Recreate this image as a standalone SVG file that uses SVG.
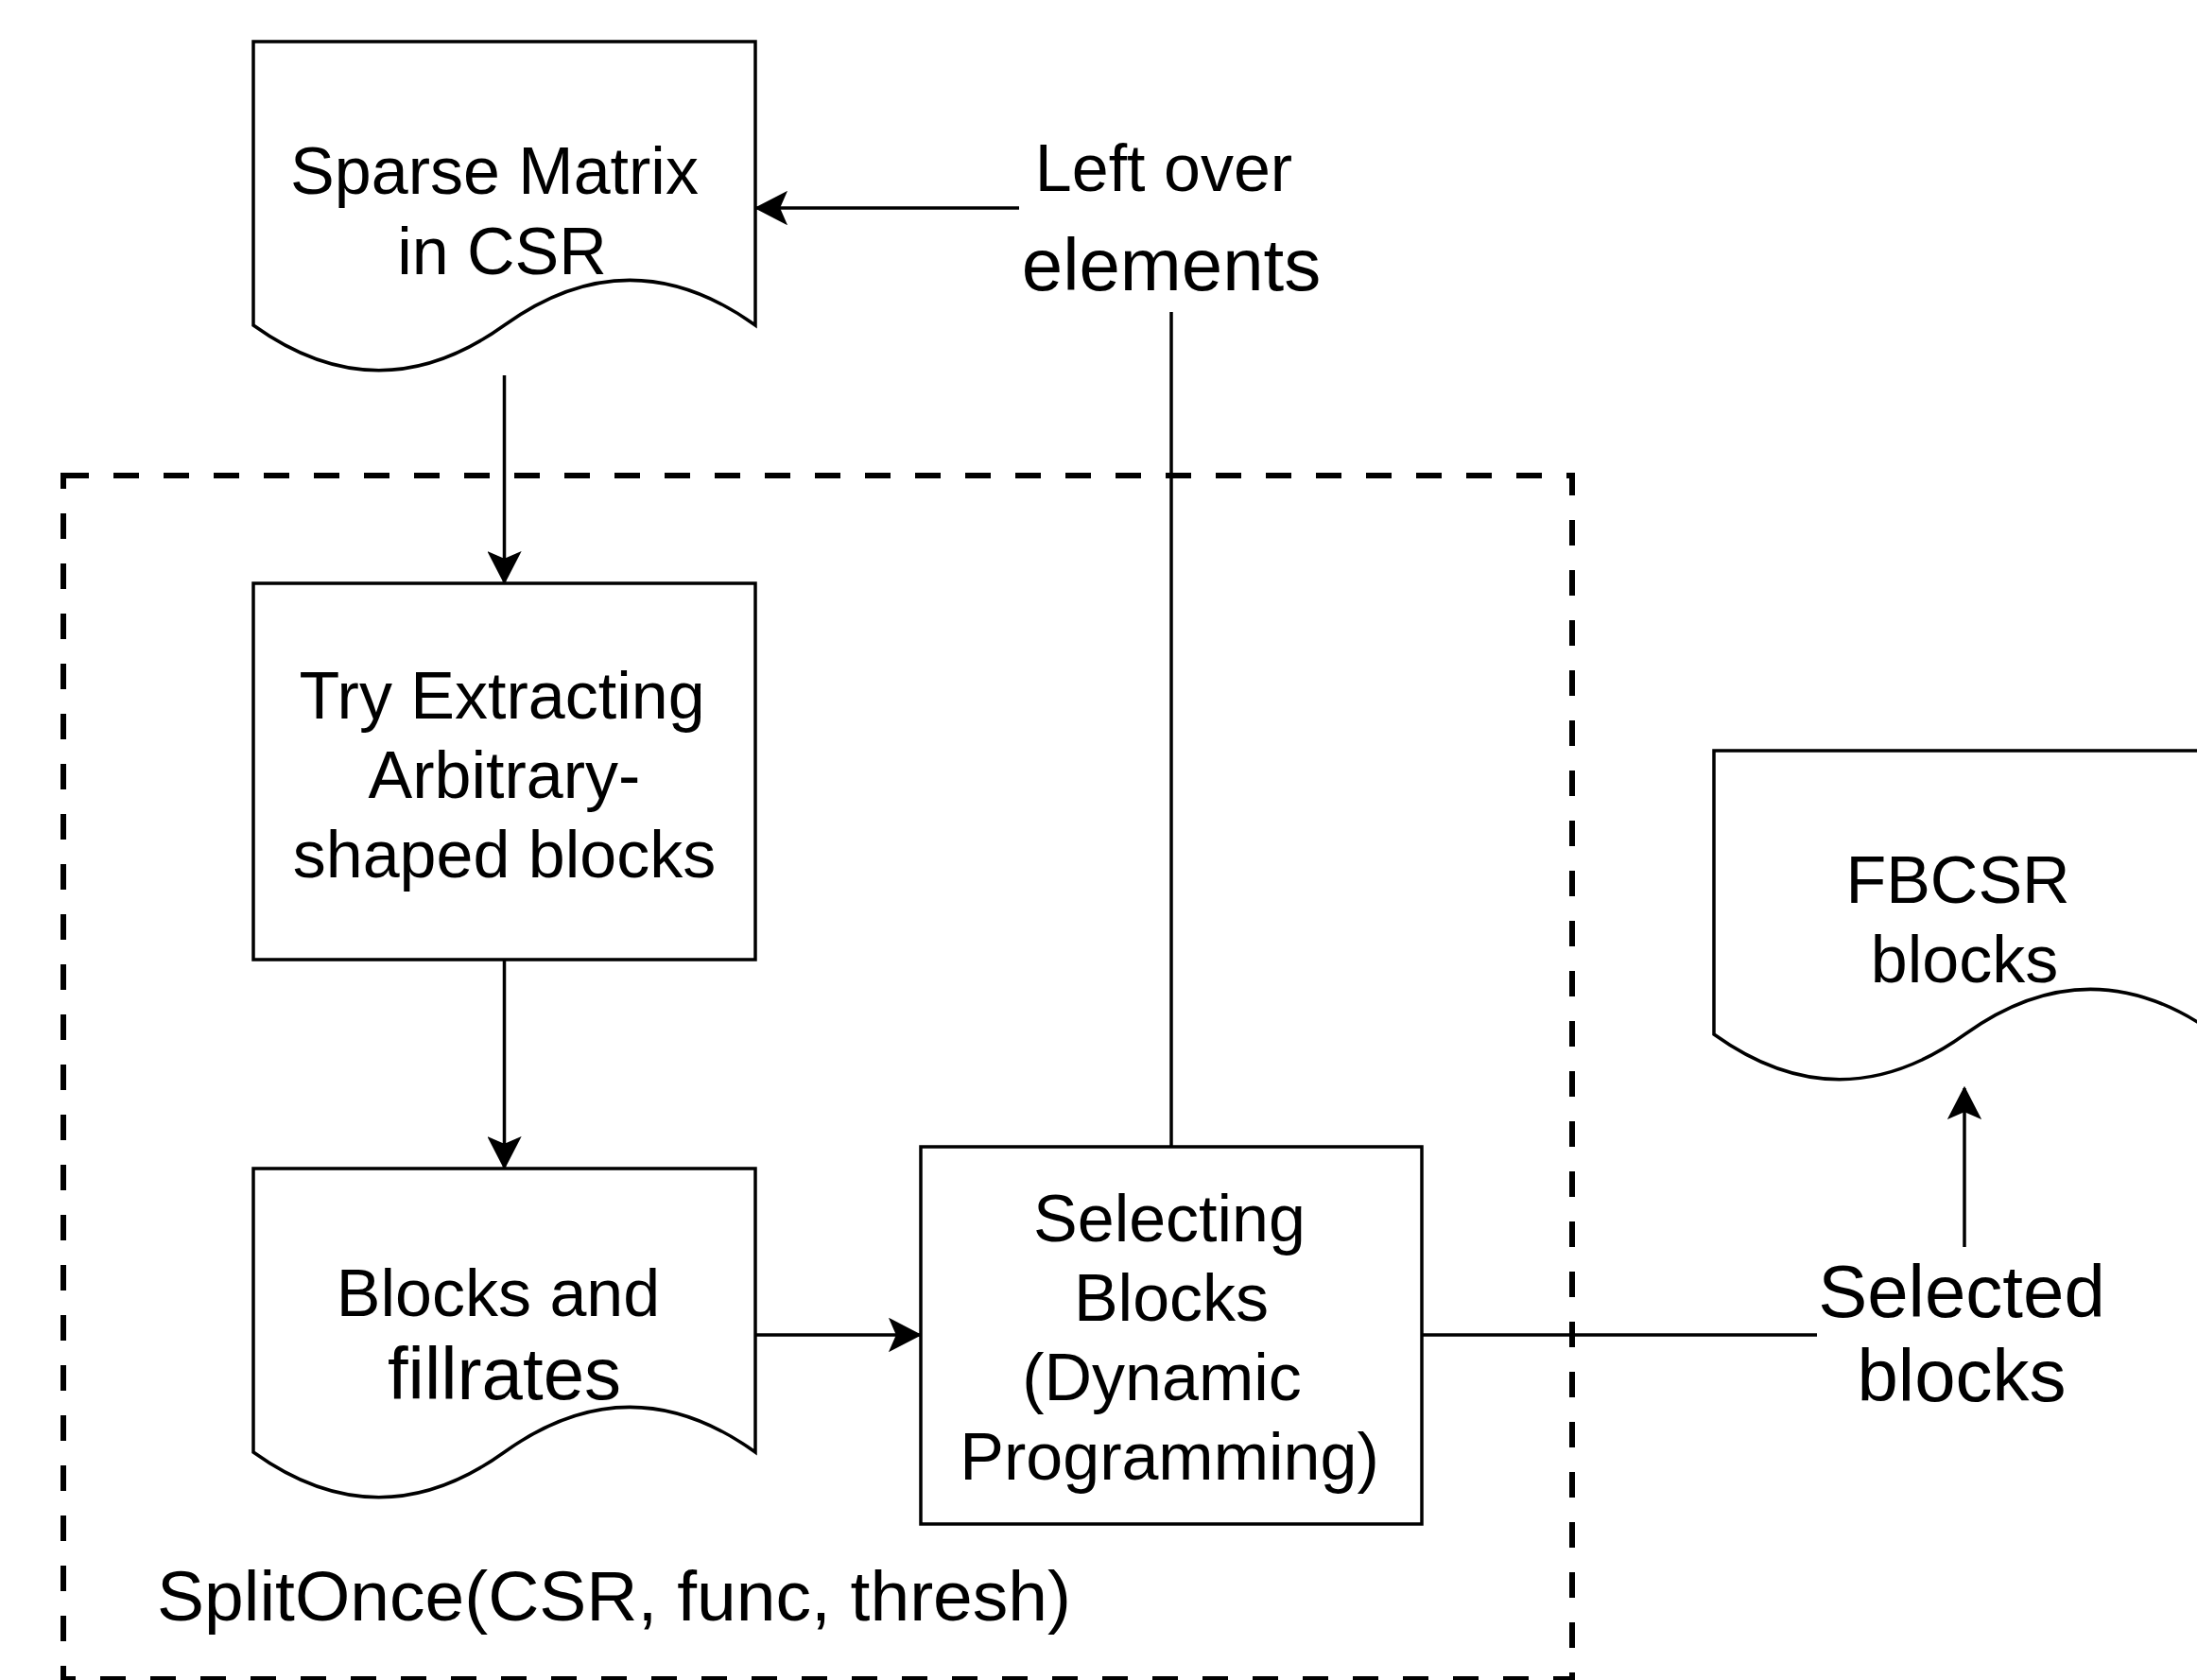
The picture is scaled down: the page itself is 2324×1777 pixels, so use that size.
<svg xmlns="http://www.w3.org/2000/svg" width="2324" height="1777" viewBox="0 0 2324 1777">
<style>
.shape{fill:#fff;stroke:#000;stroke-width:3.5}
.edge{fill:none;stroke:#000;stroke-width:3.5}
.group{fill:none;stroke:#000;stroke-width:6;stroke-dasharray:27 26}
text{font-family:"Liberation Sans",Arial,Helvetica,sans-serif;font-size:70px;fill:#000}
.c{text-anchor:middle}
.big{font-size:78px}
</style>
<defs>
<marker id="arrow" markerUnits="userSpaceOnUse" viewBox="0 0 36 36" markerWidth="36" markerHeight="36" refX="33" refY="18" orient="auto">
<path d="M2,2 L33,18 L2,34 L9,18 Z" fill="#000" stroke="#000" stroke-width="2" stroke-linejoin="miter"/>
</marker>
</defs>
<rect width="2324" height="1777" fill="#fff"/>
<g id="container">
<rect class="group" x="67" y="503" width="1596" height="1273"/>
<text x="166" y="1714" style="font-size:75px">SplitOnce(CSR, func, thresh)</text>
</g>
<g id="sparse-matrix">
<path class="shape" d="M268,44 L799,44 L799,344 Q666.25,248.7 533.5,344 Q400.75,439.4 268,344 Z"/>
<text class="c" x="523" y="205">Sparse Matrix</text>
<text class="c" x="531" y="290">in CSR</text>
</g>
<g id="try-extracting">
<rect class="shape" x="268" y="617" width="531" height="398"/>
<text class="c" x="531" y="760">Try Extracting</text>
<text class="c" x="533.5" y="844">Arbitrary-</text>
<text class="c" x="533.5" y="928">shaped blocks</text>
</g>
<g id="blocks-fillrates">
<path class="shape" d="M268,1236 L799,1236 L799,1536 Q666.25,1440.7 533.5,1536 Q400.75,1631.4 268,1536 Z"/>
<text class="c" x="527" y="1392">Blocks and</text>
<text class="c big" x="533.5" y="1480">fillrates</text>
</g>
<g id="selecting-blocks">
<rect class="shape" x="974" y="1213" width="530" height="399"/>
<text class="c" x="1237" y="1313">Selecting</text>
<text class="c" x="1239" y="1397">Blocks</text>
<text class="c" x="1229" y="1481">(Dynamic</text>
<text class="c" x="1237" y="1565">Programming)</text>
</g>
<g id="fbcsr-blocks">
<path class="shape" d="M1813,794 L2344,794 L2344,1094 Q2211.25,998.7 2078.5,1094 Q1945.75,1189.4 1813,1094 Z"/>
<text class="c" x="2071" y="955">FBCSR</text>
<text class="c" x="2078" y="1039">blocks</text>
</g>
<g id="connectors">
<line class="edge" x1="533.5" y1="397" x2="533.5" y2="616" marker-end="url(#arrow)"/>
<line class="edge" x1="533.5" y1="1015" x2="533.5" y2="1235" marker-end="url(#arrow)"/>
<line class="edge" x1="799" y1="1412" x2="973" y2="1412" marker-end="url(#arrow)"/>
<line class="edge" x1="1239" y1="1213" x2="1239" y2="330"/>
<line class="edge" x1="1078" y1="220" x2="800" y2="220" marker-end="url(#arrow)"/>
<line class="edge" x1="1504" y1="1412" x2="1922" y2="1412"/>
<line class="edge" x1="2078" y1="1319" x2="2078" y2="1151" marker-end="url(#arrow)"/>
<text class="c" x="1231" y="202">Left over</text>
<text class="c big" x="1239" y="307">elements</text>
<text class="c big" x="2075" y="1393">Selected</text>
<text class="c big" x="2075" y="1482">blocks</text>
</g>
</svg>
